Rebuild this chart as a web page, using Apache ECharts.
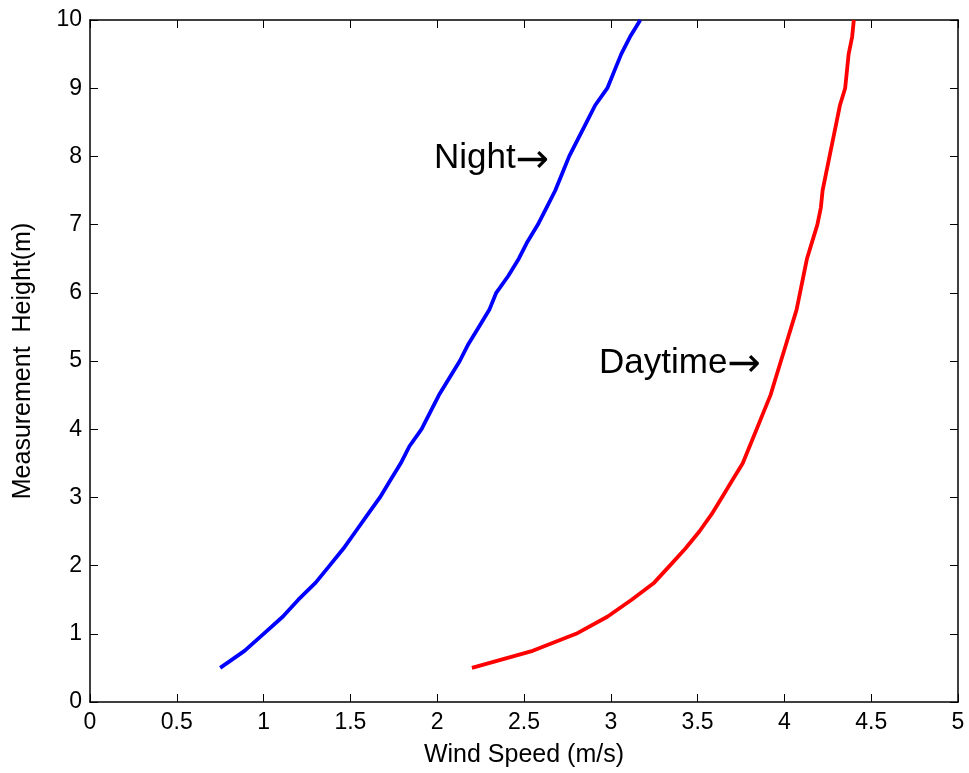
<!DOCTYPE html>
<html>
<head>
<meta charset="utf-8">
<script src="https://cdn.jsdelivr.net/npm/echarts@6/dist/echarts.min.js"></script>
<style>
  html, body { margin: 0; padding: 0; background: #fff; }
  #chart { width: 969px; height: 773px; }
</style>
</head>
<body>
<div id="chart"></div>
<script>
// 测量高度 (m)
const heights = [0.5, 0.75, 1, 1.25, 1.5, 1.75, 2, 2.25, 2.5, 2.75, 3, 3.25, 3.5, 3.75, 4,
  4.25, 4.5, 4.75, 5, 5.25, 5.5, 5.75, 6, 6.25, 6.5, 6.75, 7, 7.25, 7.5, 7.75, 8,
  8.25, 8.5, 8.75, 9, 9.25, 9.5, 9.75, 10];

// 夜间风速 (m/s)
const nightSpeed = [0.75, 0.89, 1.0, 1.11, 1.2, 1.3, 1.38, 1.46, 1.53, 1.6, 1.67, 1.73, 1.79, 1.84, 1.91,
  1.96, 2.01, 2.07, 2.13, 2.18, 2.24, 2.30, 2.34, 2.41, 2.47, 2.52, 2.58, 2.63, 2.68, 2.72, 2.76,
  2.81, 2.86, 2.91, 2.98, 3.02, 3.06, 3.11, 3.17];

// 白天风速 (m/s)
const daySpeed = [2.2, 2.55, 2.8, 2.98, 3.12, 3.25, 3.34, 3.43, 3.51, 3.58, 3.64, 3.7, 3.76, 3.8, 3.84,
  3.88, 3.92, 3.95, 3.98, 4.01, 4.04, 4.07, 4.09, 4.11, 4.13, 4.16, 4.19, 4.21, 4.22, 4.24, 4.26,
  4.28, 4.30, 4.32, 4.35, 4.36, 4.37, 4.39, 4.40];

const xTicks = [0, 0.5, 1, 1.5, 2, 2.5, 3, 3.5, 4, 4.5, 5];
const yTicks = [0, 1, 2, 3, 4, 5, 6, 7, 8, 9, 10];

// 曲线旁的文字标注 [x, y, 文本]
const notes = [[2.645, 7.97, 'Night'], [3.865, 4.97, 'Daytime']];

const font = 'Liberation Sans, Arial, Helvetica, sans-serif';

const pair = (xs, ys) => xs.map((x, i) => [x, ys[i]]);

const chart = echarts.init(document.getElementById('chart'));

const axisLine = { show: true, onZero: false, lineStyle: { color: '#000', width: 1.5 } };
const axisTick = { show: true, inside: true, length: 8, lineStyle: { color: '#000', width: 1 } };

const noteMark = (n) => ({
  symbol: 'circle',
  symbolSize: 0,
  silent: true,
  data: [{ coord: [n[0], n[1]], value: n[2] }],
  label: {
    show: true,
    formatter: '{t|' + n[2] + '}{a|→}',
    position: 'left',
    distance: 0,
    rich: {
      t: { color: '#000', fontSize: 35, fontFamily: font },
      a: { color: '#000', fontSize: 40, fontFamily: 'DejaVu Sans', padding: [6, 0, 0, 0] }
    }
  }
});

const option = {
  backgroundColor: '#fff',
  animation: false,
  grid: { left: 90, right: 11, top: 20, bottom: 70, containLabel: false },
  xAxis: [{
    type: 'value',
    min: xTicks[0], max: xTicks[xTicks.length - 1], interval: 0.5,
    name: 'Wind Speed (m/s)',
    nameLocation: 'middle',
    nameGap: 41,
    nameTextStyle: { color: '#000', fontSize: 25, fontFamily: font },
    axisLine, axisTick,
    axisLabel: { color: '#000', fontSize: 23, fontFamily: font, margin: 9 },
    splitLine: { show: false }
  }, {
    type: 'value', position: 'top',
    min: xTicks[0], max: xTicks[xTicks.length - 1], interval: 0.5,
    axisLine, axisTick,
    axisLabel: { show: false },
    splitLine: { show: false }
  }],
  yAxis: [{
    type: 'value',
    min: yTicks[0], max: yTicks[yTicks.length - 1], interval: 1,
    name: 'Measurement  Height(m)',
    nameLocation: 'middle',
    nameGap: 54,
    nameTextStyle: { color: '#000', fontSize: 25, fontFamily: font },
    axisLine, axisTick,
    axisLabel: { color: '#000', fontSize: 23, fontFamily: font, margin: 8 },
    splitLine: { show: false }
  }, {
    type: 'value', position: 'right',
    min: yTicks[0], max: yTicks[yTicks.length - 1], interval: 1,
    axisLine, axisTick,
    axisLabel: { show: false },
    splitLine: { show: false }
  }],
  series: [{
    name: 'Night',
    type: 'line',
    data: pair(nightSpeed, heights),
    showSymbol: false,
    lineStyle: { color: '#0000ff', width: 3.8 },
    markPoint: noteMark(notes[0])
  }, {
    name: 'Daytime',
    type: 'line',
    data: pair(daySpeed, heights),
    showSymbol: false,
    lineStyle: { color: '#ff0000', width: 3.8 },
    markPoint: noteMark(notes[1])
  }]
};

chart.setOption(option);
</script>
</body>
</html>
